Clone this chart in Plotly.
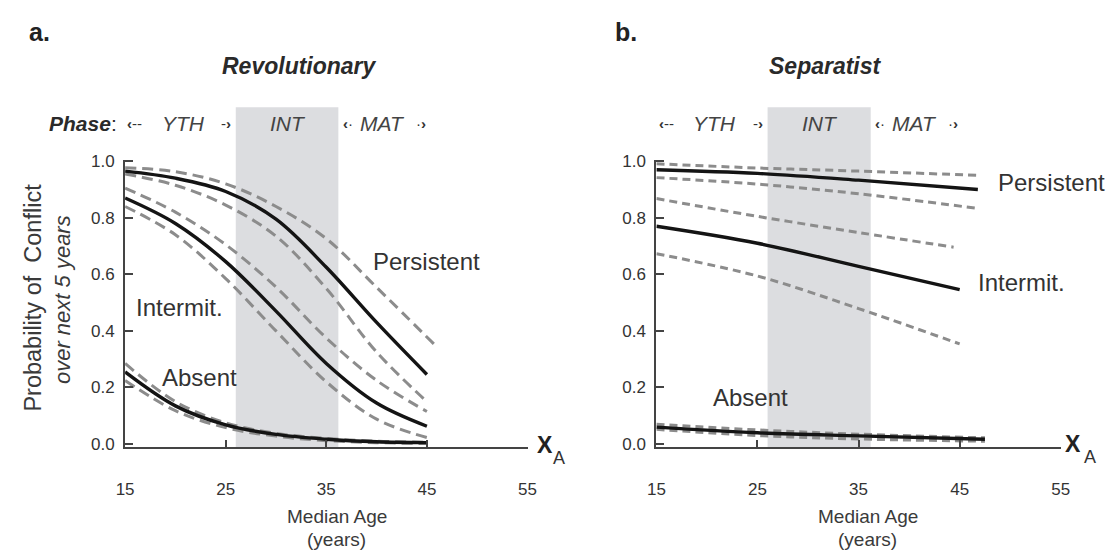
import plotly.graph_objects as go

# ---------------- data ----------------
ages_a = [15, 20, 25, 30, 35, 40, 45]
ages_a_pers_hi = [15, 20, 25, 30, 35, 40, 46]

rev_persistent = [0.965, 0.94, 0.893, 0.795, 0.625, 0.43, 0.246]
rev_persistent_hi = [0.977, 0.963, 0.92, 0.84, 0.726, 0.554, 0.343]
rev_persistent_lo = [0.955, 0.915, 0.845, 0.735, 0.55, 0.325, 0.15]
rev_intermit = [0.87, 0.78, 0.645, 0.47, 0.285, 0.145, 0.063]
rev_intermit_hi = [0.905, 0.82, 0.705, 0.555, 0.375, 0.225, 0.115]
rev_intermit_lo = [0.84, 0.74, 0.585, 0.40, 0.22, 0.088, 0.023]
rev_absent = [0.255, 0.135, 0.068, 0.034, 0.017, 0.008, 0.005]
rev_absent_hi = [0.285, 0.15, 0.075, 0.038, 0.02, 0.01, 0.006]
rev_absent_lo = [0.225, 0.118, 0.058, 0.028, 0.012, 0.005, 0.002]

ages_b_pers = [15, 25, 35, 46.8]
sep_persistent = [0.97, 0.957, 0.933, 0.90]
sep_persistent_hi = [0.991, 0.976, 0.965, 0.95]
sep_persistent_lo = [0.942, 0.919, 0.885, 0.833]
ages_b_int = [15, 25, 35, 45]
ages_b_int_hi = [15, 25, 35, 44.4]
sep_intermit = [0.77, 0.71, 0.628, 0.546]
sep_intermit_hi = [0.868, 0.805, 0.748, 0.696]
sep_intermit_lo = [0.673, 0.594, 0.479, 0.354]
ages_b_abs = [15, 25, 35, 47.5]
sep_absent = [0.06, 0.04, 0.029, 0.017]
sep_absent_hi = [0.07, 0.05, 0.035, 0.022]
sep_absent_lo = [0.052, 0.03, 0.018, 0.01]

x_ticks = [15, 25, 35, 45, 55]
y_ticks = [0.0, 0.2, 0.4, 0.6, 0.8, 1.0]
y_ticktext = ["0.0", "0.2", "0.4", "0.6", "0.8", "1.0"]
int_phase = (26, 36.2)

# ---------------- figure ----------------
W, H = 1116, 558
FONT = "Liberation Sans, Arial, sans-serif"
TXT = "#333333"
SOLID = "#141414"
DASHC = "#8c8c8c"


def px(x):
    return x / W


def py(y):
    return 1 - y / H


fig = go.Figure()


def add(xs, ys, solid, xa, ya, dash):
    fig.add_trace(go.Scatter(
        x=xs, y=ys, mode="lines", xaxis=xa, yaxis=ya,
        line=dict(color=SOLID if solid else DASHC, width=3.4 if solid else 3.0,
                  dash="solid" if solid else dash, shape="spline", smoothing=1.0),
        showlegend=False, hoverinfo="skip"))


# panel a
for xs, ys, s in [
    (ages_a_pers_hi, rev_persistent_hi, False), (ages_a, rev_persistent_lo, False),
    (ages_a, rev_intermit_hi, False), (ages_a, rev_intermit_lo, False),
    (ages_a, rev_absent_hi, False), (ages_a, rev_absent_lo, False),
    (ages_a, rev_persistent, True), (ages_a, rev_intermit, True), (ages_a, rev_absent, True)]:
    add(xs, ys, s, "x", "y", "11px,6px")

# panel b
for xs, ys, s in [
    (ages_b_pers, sep_persistent_hi, False), (ages_b_pers, sep_persistent_lo, False),
    (ages_b_int_hi, sep_intermit_hi, False), (ages_b_int, sep_intermit_lo, False),
    (ages_b_abs, sep_absent_hi, False), (ages_b_abs, sep_absent_lo, False),
    (ages_b_pers, sep_persistent, True), (ages_b_int, sep_intermit, True), (ages_b_abs, sep_absent, True)]:
    add(xs, ys, s, "x2", "y2", "8px,5px")

# layout geometry
y_bottom_px, y_top_px = 451, 156
ydom = [py(y_bottom_px), py(y_top_px)]
yrange = [-0.01, 1.005]

xcommon = dict(range=[15, 55], tickvals=x_ticks, ticks="inside", ticklen=7, tickwidth=1.5,
               tickcolor="#444", showline=True, linecolor="#444", linewidth=2,
               showgrid=False, zeroline=False, ticklabelstandoff=26,
               tickfont=dict(family=FONT, size=17, color=TXT))
ycommon = dict(range=yrange, domain=ydom, tickvals=y_ticks, ticktext=y_ticktext,
               ticks="inside", ticklen=8, tickwidth=1.5, tickcolor="#444",
               showline=True, linecolor="#444", linewidth=2, showgrid=False,
               zeroline=False, ticklabelstandoff=5,
               tickfont=dict(family=FONT, size=17, color=TXT))

fig.update_layout(
    width=W, height=H, margin=dict(l=0, r=0, t=0, b=0),
    paper_bgcolor="white", plot_bgcolor="rgba(0,0,0,0)",
    xaxis=dict(domain=[px(118), px(527)], anchor="y", **xcommon),
    yaxis=dict(anchor="x", **ycommon),
    xaxis2=dict(domain=[px(658), px(1069)], anchor="y2", **xcommon),
    yaxis2=dict(anchor="x2", **ycommon),
)

# shaded intermediate phase
for xr in ["x", "x2"]:
    fig.add_shape(type="rect", xref=xr, yref="paper", x0=int_phase[0], x1=int_phase[1],
                  y0=ydom[0], y1=py(102), fillcolor="#dcdde0", line=dict(width=0),
                  layer="below")

ann = []


def text(t, x, y, size, xanchor="center", color=TXT, angle=0):
    ann.append(dict(text=t, x=px(x), y=py(y), xref="paper", yref="paper",
                    xanchor=xanchor, yanchor="middle", showarrow=False, textangle=angle,
                    font=dict(family=FONT, size=size, color=color)))


# panel letters and titles
text("<b>a.</b>", 18, 25, 25, "left", "#222")
text("<b>b.</b>", 614, 25, 25, "left", "#222")
text("<b><i>Revolutionary</i></b>", 295, 60, 23, color="#2a2a2a")
text("<b><i>Separatist</i></b>", 830, 60, 23, color="#2a2a2a")

# phase row
PY = 119
text("<b><i>Phase</i></b>:", 39, PY, 21, "left", "#2a2a2a")
for off in [0, 540]:
    text("<b>‹</b>--", 128 + off, PY, 15, color="#333")
    text("<i>YTH</i>", 177 + off, PY, 21, color="#444")
    text("-<b>›</b>", 221 + off, PY, 15, color="#333")
    text("<i>INT</i>", 284 + off, PY, 21, color="#444")
    text("<b>‹</b>·", 345 + off, PY, 15, color="#333")
    text("<i>MAT</i>", 380 + off, PY, 21, color="#444")
    text("·<b>›</b>", 419 + off, PY, 15, color="#333")

# curve labels
text("Persistent", 368, 260, 24, "left")
text("Intermit.", 127, 308, 24, "left")
text("Absent", 153, 380, 24, "left")
text("Persistent", 1003, 179, 24, "left")
text("Intermit.", 983, 282, 24, "left")
text("Absent", 713, 400, 24, "left")

# y-axis title
text("Probability of  Conflict", 24, 298, 23.5, angle=-90, color="#3a3a3a")
text("<i>over next 5 years</i>", 55, 300, 22, angle=-90, color="#3a3a3a")

# x-axis titles
for cx in [333, 873]:
    text("Median Age", cx, 523, 19, color="#3a3a3a")
    text("(years)", cx, 546, 19, color="#3a3a3a")

# X_A labels
text("<b>X</b>", 545, 449, 23, color="#222")
text("A", 559, 462, 18, color="#333")
text("<b>X</b>", 1081, 448, 23, color="#222")
text("A", 1099, 461, 18, color="#333")

fig.update_layout(annotations=ann)
fig.write_html(
    "out.html",
    config={"displayModeBar": False},
    post_script="document.body.style.margin='0px';document.body.style.overflow='hidden';",
)
